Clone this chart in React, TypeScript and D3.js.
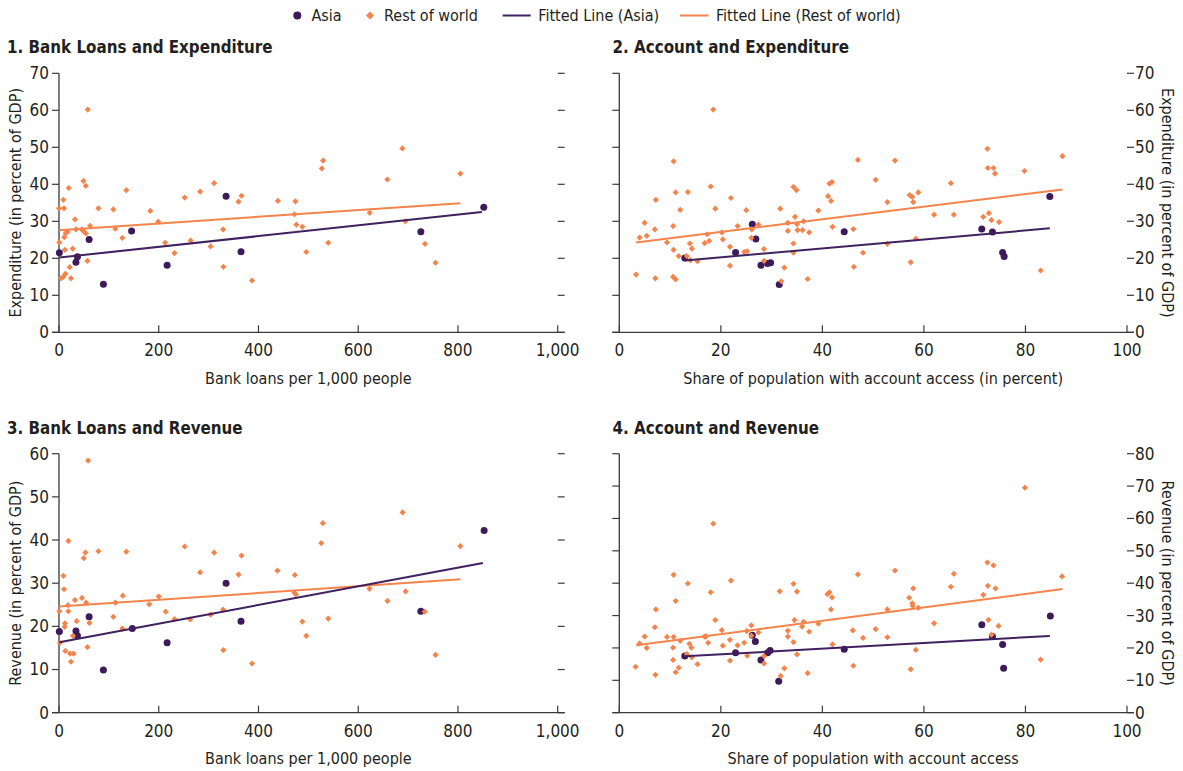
import React from "react";
import * as d3 from "d3";

// ---------- DATA ----------
const legendLabels = ["Asia", "Rest of world", "Fitted Line (Asia)", "Fitted Line (Rest of world)"];
const panelTitles = [
  "1. Bank Loans and Expenditure",
  "2. Account and Expenditure",
  "3. Bank Loans and Revenue",
  "4. Account and Revenue",
];
const xAxisLabels = [
  "Bank loans per 1,000 people",
  "Share of population with account access (in percent)",
  "Bank loans per 1,000 people",
  "Share of population with account access",
];
const yAxisLabels = [
  "Expenditure (in percent of GDP)",
  "Expenditure (in percent of GDP)",
  "Revenue (in percent of GDP)",
  "Revenue (in percent of GDP)",
];
const loanTicks = [0, 200, 400, 600, 800, 1000];
const accountTicks = [0, 20, 40, 60, 80, 100];
const expenditureTicks = [0, 10, 20, 30, 40, 50, 60, 70];
const revenueLoanTicks = [0, 10, 20, 30, 40, 50, 60];
const revenueAccountTicks = [0, 10, 20, 30, 40, 50, 60, 70, 80];

// Panel 1: bank loans vs expenditure
const p1Asia: [number, number][] = [
  [0.7, 21.5], [34, 18.9], [37, 20.4], [60.4, 25.1], [89, 13], [145.6, 27.4],
  [216.8, 18.1], [335, 36.8], [365, 21.8], [725.6, 27.2], [851.8, 33.8],
];
const p1Rest: [number, number][] = [
  [57.7, 60.2], [0, 33.5], [8.7, 35.8], [10, 33.5], [19.5, 39], [0.7, 24.3], [4, 14.6],
  [8.7, 15], [12.8, 15.8], [21.5, 17.6], [24, 14.6], [12, 22.3], [10.7, 25.7], [13.4, 26.8],
  [17.4, 27.2], [27.5, 22.6], [32, 30.5], [34, 27.8], [49, 40.9], [53.7, 39.6], [45.6, 27.8],
  [50, 27.2], [54, 26.7], [57, 19.3], [62.4, 28.8], [79, 33.5], [109, 33.2], [113, 28],
  [127, 25.5], [135, 38.4], [183, 32.8], [199, 29.9], [213, 24.2], [231.5, 21.4], [252, 36.4],
  [264, 24.8], [283, 38], [304, 23.2], [311, 40.3], [329, 27.8], [329.5, 17.7], [360, 35.3],
  [366, 36.9], [387, 14], [439, 35.5], [474, 35.4], [472, 31.9], [476, 29.1], [488, 28.5],
  [495.7, 21.7], [527, 44.3], [529.6, 46.4], [540, 24.2], [623, 32.3], [658.5, 41.3],
  [688.5, 49.7], [694.5, 30], [734, 23.9], [755, 18.8], [804.7, 42.9],
];
const p1FitAsia: [number, number][] = [[0.7, 20.2], [848, 32.5]];
const p1FitRest: [number, number][] = [[0, 27.6], [805, 34.9]];

// Panel 2: account access vs expenditure
const p2Asia: [number, number][] = [
  [12.9, 20.1], [22.9, 21.6], [26.2, 29.2], [26.9, 25.2], [27.9, 18.1], [29.2, 18.6],
  [29.8, 18.8], [31.5, 12.9], [44.3, 27.2], [71.4, 27.9], [73.5, 27.1], [75.5, 21.6],
  [75.8, 20.5], [84.8, 36.7],
];
const p2Rest: [number, number][] = [
  [18.5, 60.2], [10.7, 46.2], [11.1, 37.8], [13.5, 37.9], [7.2, 35.8], [12, 33.1], [18, 39.4],
  [18.9, 33.4], [22, 36.3], [25, 33], [31.7, 33.4], [34.3, 39.3], [34.9, 38.4], [41.4, 40.2],
  [41.9, 40.6], [41.1, 36.8], [41.7, 35.5], [39.2, 32.9], [47, 46.6], [50.5, 41.2], [52.8, 35.2],
  [3.3, 15.6], [4, 25.6], [5, 29.6], [5.4, 26.1], [7, 27.8], [7.1, 14.6], [9.4, 24.3],
  [10.6, 28.7], [10.7, 22.3], [10.6, 15], [11.1, 14.3], [11.7, 20.6], [13.3, 20.6], [13.9, 24],
  [14.3, 22.6], [14, 19.5], [15.4, 19.2], [16.8, 24.1], [17.3, 26.5], [17.7, 24.7], [20.2, 27],
  [20.4, 25.1], [21.8, 23.1], [21.8, 18], [23.3, 28.7], [24.6, 21.7], [25.2, 21.9], [26, 25.5],
  [26.1, 27.8], [27.4, 29.1], [28.5, 22.5], [28.5, 19.3], [31.9, 13.8], [32.5, 17.5],
  [33.2, 29.6], [33.2, 27.4], [34.3, 24], [34.3, 21.5], [34.6, 31.2], [35, 29.2], [35.1, 27.6],
  [36.1, 27.6], [36.3, 30], [37.1, 14.4], [37.4, 27], [42, 28.5], [46.1, 27.9], [46.2, 17.7],
  [48, 21.5], [52.8, 23.9], [54.3, 46.4], [57.2, 37.1], [57.7, 36.6], [57.9, 35.2], [58.9, 37.8],
  [58.4, 25.3], [57.4, 18.9], [62, 31.8], [65.3, 40.3], [65.9, 31.8], [71.7, 31.2], [72.5, 49.6],
  [72.6, 44.4], [72.8, 32.2], [73.3, 30.3], [73.7, 44.4], [74, 42.9], [74.8, 29.8], [79.8, 43.6],
  [83, 16.7], [87.3, 47.6],
];
const p2FitAsia: [number, number][] = [[12.9, 19.4], [84.8, 28.1]];
const p2FitRest: [number, number][] = [[3.3, 24.3], [87.3, 38.6]];

// Panel 3: bank loans vs revenue
const p3Asia: [number, number][] = [
  [0.7, 18.8], [34, 18.9], [37, 17.8], [60.4, 22.2], [89, 9.9], [147, 19.5], [216.8, 16.2],
  [335, 30], [365, 21.2], [725.6, 23.5], [852.5, 42.2],
];
const p3Rest: [number, number][] = [
  [58.4, 58.4], [0.7, 23.5], [8.7, 31.7], [10, 28.6], [18.8, 39.8], [2, 16.2], [12, 20.7],
  [11.4, 19.9], [12.8, 14.3], [22, 13.7], [24, 11.8], [29, 13.7], [18, 24.9], [18.8, 23.5],
  [32, 26.1], [35.5, 21.2], [28, 17.8], [46, 26.6], [49.7, 35.8], [53, 37.1], [54.4, 25.5],
  [57, 15.2], [61, 20.8], [79, 37.4], [109, 22.2], [113, 25.5], [128, 27.1], [127, 19.5],
  [135, 37.3], [181, 25.1], [200, 26.9], [214, 23.4], [231.5, 21.7], [252, 38.5], [263, 21.6],
  [283, 32.5], [304, 22.7], [311, 37.1], [329, 23.9], [329.5, 14.5], [360, 32], [366, 36.4],
  [387, 11.4], [438, 32.9], [473, 31.9], [472, 27.8], [475, 27.4], [488, 21.1], [495.7, 17.8],
  [526, 39.3], [529, 43.9], [540, 21.8], [622.6, 28.7], [658.5, 25.9], [689, 46.4], [695, 28.1],
  [733.5, 23.4], [755, 13.4], [804.7, 38.6],
];
const p3FitAsia: [number, number][] = [[0.7, 16.3], [850, 34.7]];
const p3FitRest: [number, number][] = [[0, 24.6], [805, 30.9]];

// Panel 4: account access vs revenue
const p4Asia: [number, number][] = [
  [12.9, 17.5], [22.9, 18.5], [26.2, 23.9], [26.8, 22], [27.9, 16.3], [29.2, 18.5],
  [29.7, 19.2], [31.4, 9.7], [44.3, 19.6], [71.4, 27.2], [73.5, 23.5], [75.5, 21.1],
  [75.7, 13.7], [84.9, 29.9],
];
const p4Rest: [number, number][] = [
  [18.5, 58.4], [10.7, 42.6], [13.5, 39.9], [11.1, 34.5], [18, 37.2], [22, 40.8], [7.2, 31.9],
  [7, 26.4], [3.2, 14.2], [4, 21.4], [5, 23.5], [5.4, 20], [7.1, 11.7], [9.4, 23.4], [10.7, 23.4],
  [10.6, 20.1], [10.6, 16.3], [11.1, 12.5], [11.7, 13.9], [12, 22.2], [13.3, 18.1], [13.8, 21.3],
  [14.2, 20.1], [14.3, 17.1], [15.4, 15], [16.8, 23.5], [17.1, 23.6], [17.5, 21.6], [18.9, 28.6],
  [20.2, 25.5], [20.4, 20.7], [21.8, 22.5], [21.8, 16.1], [23.3, 20.8], [24.6, 21.6], [25.1, 25.2],
  [25.2, 17.6], [26, 27], [26, 23.8], [27.4, 24.8], [28.5, 17.5], [28.5, 15.2], [31.6, 37.5],
  [31.8, 11.3], [32.5, 13.7], [33.2, 25.3], [33.2, 23.5], [34.3, 39.8], [34.3, 21.8], [34.5, 28.6],
  [35, 37.4], [35, 18], [36, 26.6], [36.3, 28.1], [37.1, 12.2], [37.4, 25], [39.2, 27.5],
  [41, 36.6], [41.4, 37.2], [41.9, 35.6], [41.7, 31.9], [42, 21.1], [46, 25.4], [46.1, 14.5],
  [47, 42.7], [48, 23.1], [50.5, 25.8], [52.8, 31.9], [52.8, 23.3], [54.3, 43.9], [57.1, 35.5],
  [57.7, 33.8], [57.9, 38.4], [57.8, 33], [58.9, 32.4], [57.4, 13.4], [58.4, 19.4], [62, 27.6],
  [65.3, 38.9], [65.9, 42.9], [71.7, 36.4], [72.5, 46.4], [72.6, 39.2], [72.7, 28.7], [73.3, 24.1],
  [73.7, 45.5], [74.1, 38.4], [74.7, 26.8], [79.9, 69.5], [83, 16.4], [87.2, 42.1],
];
const p4FitAsia: [number, number][] = [[12.9, 17.4], [84.8, 23.7]];
const p4FitRest: [number, number][] = [[3.3, 20.8], [87.3, 38.2]];

// ---------- STYLE ----------
const ASIA = "#3d1b5b";
const REST = "#f4844b";
const ASIA_LINE = "#41205f";
const REST_LINE = "#f4844b";
const AXIS = "#3a3a3a";
const TEXT = "#231f20";
const FONT = "'Liberation Sans Narrow', 'Arial Narrow', 'DejaVu Sans Condensed', sans-serif";

const W = 1183;
const H = 771;

type PanelDef = {
  title: string;
  xLabel: string;
  yLabel: string;
  xTicks: number[];
  yTicks: number[];
  asia: [number, number][];
  rest: [number, number][];
  fitAsia: [number, number][];
  fitRest: [number, number][];
  px: [number, number];
  py: [number, number];
  side: "left" | "right";
};

const LEFT_X: [number, number] = [59, 557.7];
const RIGHT_X: [number, number] = [619.3, 1127];
const TOP_Y: [number, number] = [332.3, 73.3];
const BOT_Y: [number, number] = [712.7, 453.7];

const panels: PanelDef[] = [
  { title: panelTitles[0], xLabel: xAxisLabels[0], yLabel: yAxisLabels[0], xTicks: loanTicks, yTicks: expenditureTicks, asia: p1Asia, rest: p1Rest, fitAsia: p1FitAsia, fitRest: p1FitRest, px: LEFT_X, py: TOP_Y, side: "left" },
  { title: panelTitles[1], xLabel: xAxisLabels[1], yLabel: yAxisLabels[1], xTicks: accountTicks, yTicks: expenditureTicks, asia: p2Asia, rest: p2Rest, fitAsia: p2FitAsia, fitRest: p2FitRest, px: RIGHT_X, py: TOP_Y, side: "right" },
  { title: panelTitles[2], xLabel: xAxisLabels[2], yLabel: yAxisLabels[2], xTicks: loanTicks, yTicks: revenueLoanTicks, asia: p3Asia, rest: p3Rest, fitAsia: p3FitAsia, fitRest: p3FitRest, px: LEFT_X, py: BOT_Y, side: "left" },
  { title: panelTitles[3], xLabel: xAxisLabels[3], yLabel: yAxisLabels[3], xTicks: accountTicks, yTicks: revenueAccountTicks, asia: p4Asia, rest: p4Rest, fitAsia: p4FitAsia, fitRest: p4FitRest, px: RIGHT_X, py: BOT_Y, side: "right" },
];

const diamond = (cx: number, cy: number, r: number) =>
  `M${cx},${cy - r}L${cx + r},${cy}L${cx},${cy + r}L${cx - r},${cy}Z`;

const fmt = d3.format(",");

function Panel({ p }: { p: PanelDef }) {
  const xs = d3.scaleLinear().domain([p.xTicks[0], p.xTicks[p.xTicks.length - 1]]).range(p.px);
  const ys = d3.scaleLinear().domain([p.yTicks[0], p.yTicks[p.yTicks.length - 1]]).range(p.py);
  const line = d3.line<[number, number]>().x((d) => xs(d[0])).y((d) => ys(d[1]));
  const x0 = p.px[0];
  const x1 = p.px[1];
  const yb = p.py[0];
  const yt = p.py[1];
  const tl = 7;
  const titleX = p.side === "left" ? 7 : 612.5;
  return (
    <g>
      <text
        transform={`translate(${titleX},${yt - 20}) scale(0.91,1)`}
        fontFamily={FONT}
        fontWeight="bold"
        fontSize={18.5}
        fill={TEXT}
      >
        {p.title}
      </text>
      {/* axes */}
      <line x1={x0 - tl} x2={x1 + tl} y1={yb} y2={yb} stroke={AXIS} strokeWidth={1.3} />
      <line x1={x0} x2={x0} y1={yt} y2={yb} stroke={AXIS} strokeWidth={1.3} />
      {p.yTicks.map((t) => (
        <g key={"yt" + t}>
          <line x1={x0 - tl} x2={x0} y1={ys(t)} y2={ys(t)} stroke={AXIS} strokeWidth={1.2} />
          <line x1={x1} x2={x1 + tl} y1={ys(t)} y2={ys(t)} stroke={AXIS} strokeWidth={1.2} />
          {p.side === "left" ? (
            <text x={x0 - 10} y={ys(t)} dy="0.35em" textAnchor="end" fontFamily={FONT} fontSize={17} fill={TEXT}>
              {t}
            </text>
          ) : (
            <text x={x1 + 8} y={ys(t)} dy="0.35em" textAnchor="start" fontFamily={FONT} fontSize={17} fill={TEXT}>
              {t}
            </text>
          )}
        </g>
      ))}
      {p.xTicks.map((t) => (
        <g key={"xt" + t}>
          <line x1={xs(t)} x2={xs(t)} y1={yb - tl} y2={yb} stroke={AXIS} strokeWidth={1.2} />
          <text x={xs(t)} y={yb + 18} dy="0.35em" textAnchor="middle" fontFamily={FONT} fontSize={17} fill={TEXT}>
            {fmt(t)}
          </text>
        </g>
      ))}
      <text x={(x0 + x1) / 2} y={yb + 46} dy="0.35em" textAnchor="middle" fontFamily={FONT} fontSize={16} fill={TEXT}>
        {p.xLabel}
      </text>
      {p.side === "left" ? (
        <text transform={`translate(15,${(yb + yt) / 2}) rotate(-90)`} dy="0.35em" textAnchor="middle" fontFamily={FONT} fontSize={16} fill={TEXT}>
          {p.yLabel}
        </text>
      ) : (
        <text transform={`translate(1168,${(yb + yt) / 2}) rotate(90)`} dy="0.35em" textAnchor="middle" fontFamily={FONT} fontSize={16} fill={TEXT}>
          {p.yLabel}
        </text>
      )}
      {/* points */}
      {p.asia.map((d, i) => (
        <circle key={"a" + i} cx={xs(d[0])} cy={ys(d[1])} r={3.5} fill={ASIA} />
      ))}
      {p.rest.map((d, i) => (
        <path key={"r" + i} d={diamond(xs(d[0]), ys(d[1]), 3.1)} fill={REST} />
      ))}
      <path d={line(p.fitRest) || ""} stroke={REST_LINE} strokeWidth={2} fill="none" />
      <path d={line(p.fitAsia) || ""} stroke={ASIA_LINE} strokeWidth={2} fill="none" />
    </g>
  );
}

function Legend() {
  const y = 15.5;
  return (
    <g fontFamily={FONT} fontSize={16} fill={TEXT}>
      <circle cx={297.3} cy={y} r={4} fill={ASIA} />
      <text x={311.5} y={y} dy="0.35em">{legendLabels[0]}</text>
      <path d={diamond(370, y, 4)} fill={REST} />
      <text x={384} y={y} dy="0.35em">{legendLabels[1]}</text>
      <line x1={502.7} x2={530.7} y1={y} y2={y} stroke={ASIA_LINE} strokeWidth={2} />
      <text x={538.3} y={y} dy="0.35em">{legendLabels[2]}</text>
      <line x1={680} x2={708.7} y1={y} y2={y} stroke={REST_LINE} strokeWidth={2} />
      <text x={716} y={y} dy="0.35em">{legendLabels[3]}</text>
    </g>
  );
}

export default function App() {
  return (
    <svg
      width={W}
      height={H}
      viewBox={`0 0 ${W} ${H}`}
      style={{ position: "absolute", left: 0, top: 0, background: "#fff" }}
    >
      <rect width={W} height={H} fill="#fff" />
      <Legend />
      {panels.map((p, i) => (
        <Panel key={i} p={p} />
      ))}
    </svg>
  );
}
